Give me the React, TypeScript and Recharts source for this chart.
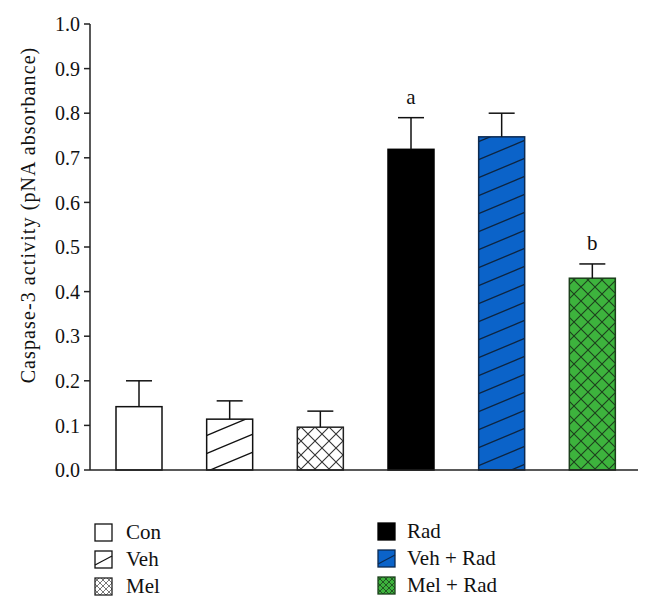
import React from "react";
import { Bar, BarChart, Cell, XAxis, YAxis } from "recharts";

const groups = ["Con", "Veh", "Mel", "Rad", "Veh + Rad", "Mel + Rad"];
const means = [0.142, 0.114, 0.096, 0.719, 0.747, 0.43];
const errors = [0.058, 0.041, 0.036, 0.071, 0.053, 0.032];
const notes = ["", "", "", "a", "", "b"];
const yTicks = [0, 0.1, 0.2, 0.3, 0.4, 0.5, 0.6, 0.7, 0.8, 0.9, 1.0];

const fills = ["#ffffff", "url(#hatchWhite)", "url(#crossWhite)", "#000000", "url(#hatchBlue)", "url(#crossGreen)"];
const strokes = ["#111", "#111", "#222", "#000", "#0d2a50", "#1c3f1c"];

const data = groups.map((g, i) => ({ group: g, value: means[i], err: errors[i], note: notes[i] }));

const FONT = "'Liberation Serif', 'Times New Roman', serif";

function BarWithError(props: any) {
  const { x, y, width, height, fill, stroke, payload } = props;
  const perUnit = height / payload.value;
  const top = y - payload.err * perUnit;
  const cx = x + width / 2;
  return (
    <g>
      <rect x={x} y={y} width={width} height={height} fill={fill} stroke={stroke} strokeWidth={1.5} />
      <line x1={cx} y1={y} x2={cx} y2={top} stroke="#111" strokeWidth={1.5} />
      <line x1={cx - 13} y1={top} x2={cx + 13} y2={top} stroke="#111" strokeWidth={1.5} />
      {payload.note ? (
        <text x={cx} y={top - 14} textAnchor="middle" fontSize={21} fontFamily={FONT} fill="#111">
          {payload.note}
        </text>
      ) : null}
    </g>
  );
}

function YLabel(props: any) {
  const vb = props.viewBox;
  const lx = vb.x + 35;
  const ly = vb.y + vb.height / 2 - 32;
  return (
    <text
      x={lx}
      y={ly}
      transform={`rotate(-90, ${lx}, ${ly})`}
      textAnchor="middle"
      fontSize={20}
      letterSpacing={1.1}
      fontFamily={FONT}
      fill="#111"
    >
      Caspase-3 activity (pNA absorbance)
    </text>
  );
}

function Swatch({ i }: { i: number }) {
  const s = 17;
  return (
    <svg width={s + 2} height={s + 2} style={{ display: "block" }}>
      <defs>
        <pattern id={`lgCross${i}`} patternUnits="userSpaceOnUse" width={6} height={6}>
          <rect width={6} height={6} fill={i === 5 ? "#3db33d" : "#fff"} />
          <path d="M0,0 L6,6 M6,0 L0,6" stroke={i === 5 ? "#1c3f1c" : "#555"} strokeWidth={0.8} />
        </pattern>
      </defs>
      <rect
        x={1}
        y={1}
        width={s}
        height={s}
        fill={i === 2 || i === 5 ? `url(#lgCross${i})` : i === 4 ? "#0b63c9" : i === 3 ? "#000" : "#fff"}
        stroke={strokes[i]}
        strokeWidth={1.3}
      />
      {i === 1 || i === 4 ? (
        <line x1={1} y1={s - 2} x2={s + 1} y2={6} stroke={i === 4 ? "#0d2a50" : "#111"} strokeWidth={1.2} />
      ) : null}
    </svg>
  );
}

function LegendItem({ i }: { i: number }) {
  return (
    <div style={{ display: "flex", alignItems: "center", height: 27 }}>
      <Swatch i={i} />
      <span style={{ marginLeft: i < 3 ? 13 : 11, fontSize: 21, fontFamily: FONT, color: "#111" }}>{groups[i]}</span>
    </div>
  );
}

export default function App() {
  return (
    <div style={{ position: "absolute", left: 0, top: 0, width: 652, height: 609, background: "#fff" }}>
      <BarChart width={652} height={480} data={data} margin={{ top: 24, right: 14, left: 0, bottom: 0 }}>
        <defs>
          <pattern id="hatchWhite" patternUnits="userSpaceOnUse" width={43} height={18}>
            <rect width={43} height={18} fill="#fff" />
            <path d="M-43,18 L43,-18 M0,18 L43,0 M0,36 L86,0" stroke="#111" strokeWidth={1.3} />
          </pattern>
          <pattern id="hatchBlue" patternUnits="userSpaceOnUse" width={43} height={18}>
            <rect width={43} height={18} fill="#0b63c9" />
            <path d="M-43,18 L43,-18 M0,18 L43,0 M0,36 L86,0" stroke="#0d2440" strokeWidth={1.3} />
          </pattern>
          <pattern id="crossWhite" patternUnits="userSpaceOnUse" width={14} height={14}>
            <rect width={14} height={14} fill="#fff" />
            <path d="M0,0 L14,14 M14,0 L0,14" stroke="#333" strokeWidth={1.1} />
          </pattern>
          <pattern id="crossGreen" patternUnits="userSpaceOnUse" width={14} height={14}>
            <rect width={14} height={14} fill="#3db33d" />
            <path d="M0,0 L14,14 M14,0 L0,14" stroke="#1c3f1c" strokeWidth={1.1} />
          </pattern>
        </defs>
        <XAxis
          dataKey="group"
          height={10}
          tick={false}
          tickLine={false}
          axisLine={{ stroke: "#222", strokeWidth: 1.5 }}
          padding={{ left: 4, right: 0 }}
        />
        <YAxis
          width={90}
          domain={[0, 1]}
          ticks={yTicks}
          interval={0}
          tickFormatter={(v: number) => v.toFixed(1)}
          tickSize={6}
          tickMargin={4}
          tick={{ fontSize: 20, fontFamily: FONT, fill: "#111" }}
          tickLine={{ stroke: "#222", strokeWidth: 1.5 }}
          axisLine={{ stroke: "#222", strokeWidth: 1.5 }}
          label={{ content: YLabel }}
        />
        <Bar dataKey="value" barSize={46} shape={BarWithError} isAnimationActive={false}>
          {data.map((d, i) => (
            <Cell key={d.group} fill={fills[i]} stroke={strokes[i]} />
          ))}
        </Bar>
      </BarChart>
      <div style={{ position: "absolute", left: 94, top: 519 }}>
        {[0, 1, 2].map((i) => (
          <LegendItem key={i} i={i} />
        ))}
      </div>
      <div style={{ position: "absolute", left: 377, top: 518 }}>
        {[3, 4, 5].map((i) => (
          <LegendItem key={i} i={i} />
        ))}
      </div>
    </div>
  );
}
